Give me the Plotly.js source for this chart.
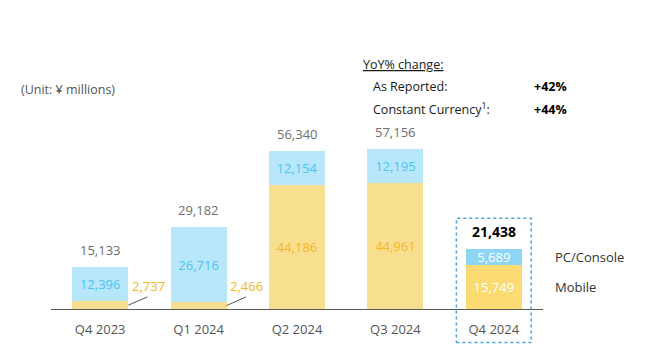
<!DOCTYPE html>
<html>
<head>
<meta charset="utf-8">
<script src="https://cdn.plot.ly/plotly-3.0.1.min.js"></script>
<style>html,body{margin:0;padding:0;background:#fff;}#chart{width:653px;height:351px;}</style>
</head>
<body>
<div id="chart"></div>
<script>
const categories = ['Q4 2023', 'Q1 2024', 'Q2 2024', 'Q3 2024', 'Q4 2024'];
const mobile = [2737, 2466, 44186, 44961, 15749];
const pcConsole = [12396, 26716, 12154, 12195, 5689];
const outsideMobile = [true, true, false, false, false];
const seriesNames = ['Mobile', 'PC/Console'];
const yoyLabels = ['As Reported:', 'Constant Currency<sup>1</sup>:'];
const yoyValues = ['+42%', '+44%'];

const FONT = 'Open Sans, Lato, sans-serif';
const last = categories.length - 1;
const fmt = v => v.toLocaleString('en-US');
const totals = mobile.map((m, i) => m + pcConsole[i]);
const idx = categories.map((c, i) => i);

const pcColors = idx.map(i => i === last ? '#8dd5f3' : '#b8e6fb');
const mobColors = idx.map(i => i === last ? '#fcdc72' : '#f8df90');

const traceMobile = {
  type: 'bar', name: seriesNames[0], x: idx, y: mobile,
  marker: {color: mobColors, line: {width: 0}},
  text: mobile.map(fmt),
  textposition: outsideMobile.map(o => o ? 'none' : 'inside'),
  insidetextanchor: 'middle', constraintext: 'none',
  textfont: {family: FONT, size: 13, color: idx.map(i => i === last ? '#ffffff' : '#f4b825')},
  hoverinfo: 'skip'
};
const tracePC = {
  type: 'bar', name: seriesNames[1], x: idx, y: pcConsole,
  marker: {color: pcColors, line: {width: 0}},
  text: pcConsole.map(fmt),
  textposition: 'inside', insidetextanchor: 'middle', constraintext: 'none',
  textfont: {family: FONT, size: 13, color: idx.map(i => i === last ? '#ffffff' : '#4cc4f2')},
  hoverinfo: 'skip'
};

const annotations = [];
// totals
totals.forEach((t, i) => {
  annotations.push({
    x: i, y: t, xref: 'x', yref: 'y', text: i === last ? '<b>' + fmt(t) + '</b>' : fmt(t),
    showarrow: false, yanchor: 'bottom', yshift: 6,
    font: {family: FONT, size: i === last ? 14 : 13, color: i === last ? '#000000' : '#6e6e6e'}
  });
});
// small mobile labels placed outside with leader lines
const shapes = [];
const halfBar = 0.285;
mobile.forEach((m, i) => {
  if (!outsideMobile[i]) return;
  annotations.push({
    x: i + 0.49, y: 8200, xref: 'x', yref: 'y', text: fmt(m), showarrow: false,
    xanchor: 'center', yanchor: 'middle',
    font: {family: FONT, size: 13, color: '#f4b825'}
  });
  shapes.push({
    type: 'line', xref: 'x', yref: 'y',
    x0: i + halfBar, y0: m / 2, x1: i + halfBar + 0.195, y1: 4300,
    line: {color: '#555555', width: 1}
  });
});
// highlight box around latest quarter
shapes.push({
  type: 'rect', xref: 'x', yref: 'paper',
  x0: last - 0.38, x1: last + 0.38, y0: -0.12, y1: 0.324,
  line: {color: '#4aa6d8', width: 1.5, dash: 'dot'}, fillcolor: 'rgba(0,0,0,0)'
});
// right-side series labels
annotations.push({xref: 'paper', yref: 'paper', x: 1.02, y: 0.187, xanchor: 'left', yanchor: 'middle',
  text: seriesNames[1], showarrow: false, font: {family: FONT, size: 13, color: '#333333'}});
annotations.push({xref: 'paper', yref: 'paper', x: 1.02, y: 0.080, xanchor: 'left', yanchor: 'middle',
  text: seriesNames[0], showarrow: false, font: {family: FONT, size: 13, color: '#333333'}});
// unit
annotations.push({xref: 'paper', yref: 'paper', x: -0.066, y: 0.785, xanchor: 'left', yanchor: 'middle',
  text: '(Unit: ¥ millions)', showarrow: false, font: {family: FONT, size: 12.5, color: '#555555'}});
// YoY block
annotations.push({xref: 'paper', yref: 'paper', x: 0.630, y: 0.875, xanchor: 'left', yanchor: 'middle',
  text: '<u>YoY% change:</u>', showarrow: false, font: {family: FONT, size: 12.5, color: '#1a1a1a'}});
const yoyY = [0.794, 0.714];
yoyLabels.forEach((l, k) => {
  annotations.push({xref: 'paper', yref: 'paper', x: 0.651, y: yoyY[k], xanchor: 'left', yanchor: 'middle',
    text: l, showarrow: false, font: {family: FONT, size: 12.5, color: '#1a1a1a'}});
  annotations.push({xref: 'paper', yref: 'paper', x: 0.977, y: yoyY[k], xanchor: 'left', yanchor: 'middle',
    text: '<b>' + yoyValues[k] + '</b>', showarrow: false, font: {family: FONT, size: 12.5, color: '#000000'}});
});

const layout = {
  width: 653, height: 351,
  margin: {l: 51, r: 110, t: 29, b: 42},
  paper_bgcolor: '#ffffff', plot_bgcolor: '#ffffff',
  barmode: 'stack', bargap: 0.43, showlegend: false,
  font: {family: FONT},
  xaxis: {
    tickmode: 'array', tickvals: idx, ticktext: categories, range: [-0.5, 4.5],
    showline: true, linecolor: '#5a5a5a', linewidth: 1.2, showgrid: false, zeroline: false,
    ticks: '', ticklabelstandoff: 8, tickfont: {family: FONT, size: 13, color: '#555555'},
    fixedrange: true
  },
  yaxis: {range: [0, 100000], visible: false, showgrid: false, zeroline: false, fixedrange: true},
  annotations: annotations, shapes: shapes
};

Plotly.newPlot('chart', [traceMobile, tracePC], layout, {displayModeBar: false, staticPlot: true});
</script>
</body>
</html>
